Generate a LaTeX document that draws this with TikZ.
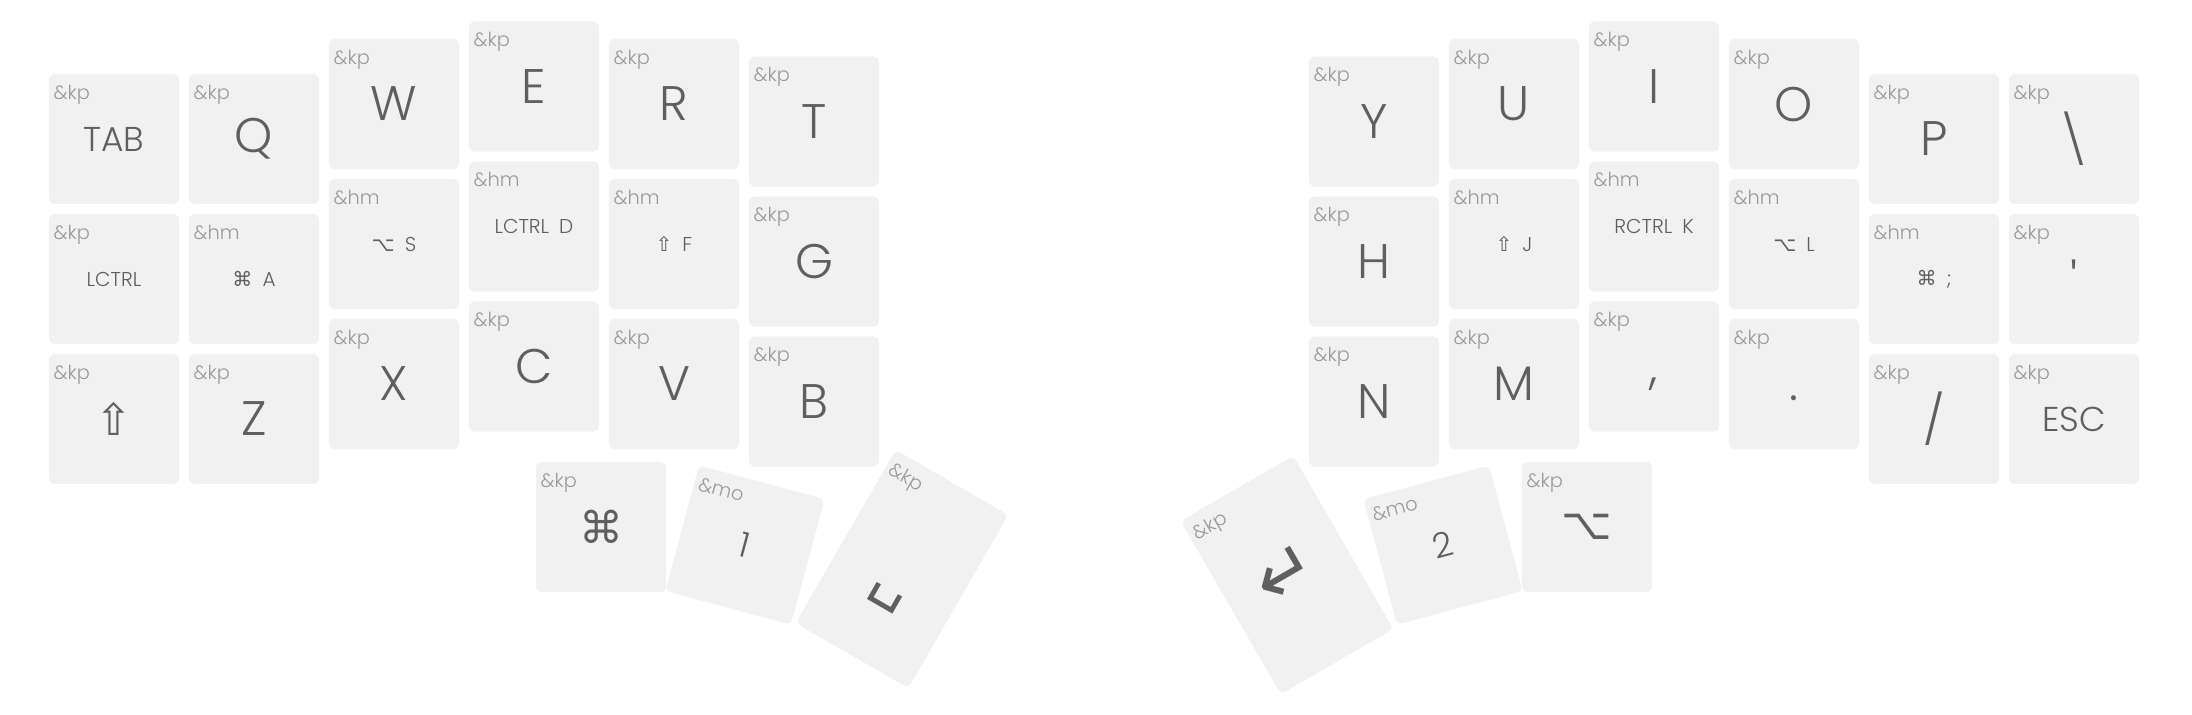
\documentclass[tikz,border=0pt]{standalone}
\usepackage{fontspec}
\setmainfont{Poppins Light}
\newfontfamily\symfont{DejaVu Sans}

\definecolor{keyfill}{HTML}{F1F1F1}
\definecolor{tapgray}{HTML}{5F5F5F}
\definecolor{holdgray}{HTML}{9A9A9A}

\newcommand{\bigt}{\fontsize{13.8}{14}\selectfont}
\newcommand{\midt}{\fontsize{9.8}{10}\selectfont}
\newcommand{\smlt}{\fontsize{5.7}{6}\selectfont}
\newcommand{\symt}{\symfont\fontsize{12.5}{13}\selectfont}
\newcommand{\hugt}{\symfont\fontsize{21}{21}\selectfont}

\tikzset{
  key/.style={fill=keyfill, rounded corners=0.06cm, minimum width=1.3cm,
    minimum height=1.3cm, inner sep=0pt, text=tapgray, transform shape},
  hold/.style={anchor=north west, inner sep=0pt, text=holdgray,
    font=\fontsize{5.5}{6}\selectfont, transform shape},
}

\begin{document}
\begin{tikzpicture}[x=0.01cm, y=0.01cm]
\useasboundingbox (0,0) rectangle (2192,-714);

% finger keys and flat thumbs
\foreach \px/\py/\hb/\tap/\kn in {
  114/-139/kp/{\midt TAB}/tab, 254/-139/kp/{\bigt Q}/q,
  394/-104/kp/{\bigt W}/w, 534/-86.5/kp/{\bigt E}/e,
  674/-104/kp/{\bigt R}/r, 814/-121.5/kp/{\bigt T}/t,
  114/-279/kp/{\smlt LCTRL}/lctrl, 254/-279/hm/{\smlt{\symfont ⌘}\enspace A}/a,
  394/-244/hm/{\smlt{\symfont ⌥}\enspace S}/s, 534/-226.5/hm/{\smlt LCTRL\enspace D}/d,
  674/-244/hm/{\smlt{\symfont ⇧}\enspace F}/f, 814/-261.5/kp/{\bigt G}/g,
  114/-419/kp/{\symt ⇧}/lshft, 254/-419/kp/{\bigt Z}/z,
  394/-384/kp/{\bigt X}/x, 534/-366.5/kp/{\bigt C}/c,
  674/-384/kp/{\bigt V}/v, 814/-401.5/kp/{\bigt B}/b,
  601/-527/kp/{\symt ⌘}/lgui,
  1374/-121.5/kp/{\bigt Y}/y, 1514/-104/kp/{\bigt U}/u,
  1654/-86.5/kp/{\bigt I}/i, 1794/-104/kp/{\bigt O}/o,
  1934/-139/kp/{\bigt P}/p, 2074/-139/kp/{\bigt\textbackslash}/bslh,
  1374/-261.5/kp/{\bigt H}/h, 1514/-244/hm/{\smlt{\symfont ⇧}\enspace J}/j,
  1654/-226.5/hm/{\smlt RCTRL\enspace K}/k, 1794/-244/hm/{\smlt{\symfont ⌥}\enspace L}/l,
  1934/-279/hm/{\smlt{\symfont ⌘}\enspace ;}/semi, 2074/-279/kp/{\bigt\textquotesingle}/sqt,
  1374/-401.5/kp/{\bigt N}/n, 1514/-384/kp/{\bigt M}/m,
  1654/-366.5/kp/{\bigt\vphantom{X}\smash{,}}/comma, 1794/-384/kp/{\bigt\vphantom{X}.}/dot,
  1934/-419/kp/{\bigt /}/fslh, 2074/-419/kp/{\midt ESC}/esc,
  1587/-527/kp/{\symt ⌥}/lalt} {
  \begin{scope}[shift={(\px,\py)}]
    \node[key] (k-\kn) at (0,0) {\tap};
    \node[hold] (h-\kn) at (-61,55) {\&\hb};
  \end{scope}
}

% tilted thumbs
\foreach \px/\py/\rot/\kh/\hb/\tap/\kn in {
  745/-545/-15/130/mo/{\midt 1}/num1,
  902/-569/-30/200/kp/{\symfont\fontsize{17}{17}\selectfont\raisebox{-0.3cm}[0pt][0pt]{␣}}/spc,
  1287/-575/30/200/kp/{\hugt ↵}/ret, 1443/-545/15/130/mo/{\midt 2}/num2} {
  \begin{scope}[shift={(\px,\py)}, rotate=\rot]
    \node[key, minimum height={\kh*0.01cm}] (k-\kn) at (0,0) {\tap};
    \node[hold] (h-\kn) at (-61,{\kh/2-10}) {\&\hb};
  \end{scope}
}
\end{tikzpicture}
\end{document}
